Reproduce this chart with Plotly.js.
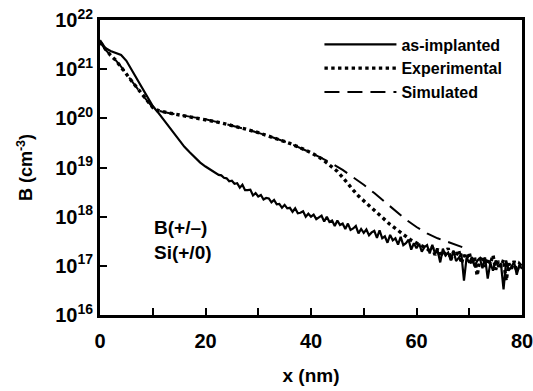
<!DOCTYPE html>
<html>
<head>
<meta charset="utf-8">
<script src="https://cdn.plot.ly/plotly-3.0.1.min.js"></script>
<style>html,body{margin:0;padding:0;background:#fff;}#chart{width:533px;height:391px;}</style>
</head>
<body>
<div id="chart"></div>
<script>
// ---- data (concentrations given as log10 of cm^-3) ----
const asImplX = [0,0.5,1,2,3,4,5,6,7,8,9,10,11,12,13,14,15,16,17,18,19,20,21,
  22,22.5,23,23.5,24,24.5,25,25.5,26,26.5,27,27.5,28,28.5,29,29.5,30,30.5,31,31.5,
  32,32.5,33,33.5,34,34.5,35,35.5,36,36.5,37,37.5,38,38.5,39,39.5,40,40.5,41,41.5,
  42,42.5,43,43.5,44,44.5,45,45.5,46,46.5,47,47.5,48,48.5,49,49.5,50,50.5,51,51.5,
  52,52.5,53,53.5,54,54.5,55,55.5,56,56.5,57,57.5,58,58.5,59,59.5,60,60.5,61,61.5,
  62,62.5,63,63.5,64,64.5,65,65.5,66,66.5,67,67.5,68,68.5,69,69.5,70,70.5,71,71.5,
  72,72.5,73,73.5,74,74.5,75,75.5,76,76.5,77,77.5,78,78.5,79,79.5,80];
const asImplLog = [21.59,21.50,21.43,21.37,21.33,21.29,21.17,20.98,20.80,20.60,20.43,20.25,20.12,19.98,19.82,19.68,19.55,19.42,19.31,19.20,19.10,19.02,18.95,
  18.89,18.85,18.84,18.79,18.78,18.72,18.73,18.67,18.68,18.59,18.65,18.54,18.54,18.55,18.43,18.48,18.41,18.44,18.35,18.38,
  18.37,18.29,18.34,18.25,18.26,18.18,18.24,18.17,18.18,18.10,18.17,18.07,18.08,18.11,18.00,18.06,18.00,18.04,17.95,17.99,
  18.02,17.90,18.00,17.89,17.92,17.81,17.92,17.83,17.86,17.75,17.86,17.73,17.76,17.81,17.66,17.75,17.67,17.74,17.62,17.68,
  17.71,17.57,17.72,17.56,17.60,17.47,17.63,17.52,17.56,17.43,17.59,17.42,17.46,17.53,17.33,17.46,17.36,17.45,17.29,17.38,
  17.42,17.25,17.43,17.25,17.31,17.07,17.35,17.21,17.27,17.11,17.31,17.10,17.16,17.25,16.70,17.17,17.06,17.18,16.99,17.10,
  17.16,16.95,17.17,16.74,17.06,16.90,17.11,16.98,17.05,16.52,17.11,16.91,16.98,17.08,16.82,17.02,16.94];

const expX = [0,1,2,3,4,5,6,7,8,9,10,11,12,13,14,15,16,17,18,19,20,22,24,26,28,30,32,34,36,38,40,42,44,
  45,46,47,48,49,50,51,52,53,54,55,56,57,58,59,60,61,62,
  62.5,63,63.5,64,64.5,65,65.5,66,66.5,67,67.5,68,68.5,69,69.5,70,70.5,71,71.5,
  72,72.5,73,73.5,74,74.5,75,75.5,76,76.5,77,77.5,78,78.5,79,79.5,80];
const expLog = [21.55,21.40,21.28,21.18,21.05,20.90,20.76,20.62,20.48,20.35,20.22,20.16,20.13,20.11,20.09,20.07,20.05,20.04,20.02,20.00,19.98,19.93,19.88,19.83,19.77,19.71,19.64,19.57,19.49,19.40,19.30,19.18,19.02,
  18.92,18.80,18.66,18.54,18.42,18.32,18.22,18.12,18.02,17.93,17.84,17.76,17.69,17.60,17.52,17.46,17.40,17.35,
  17.30,17.38,17.22,17.35,17.18,17.30,17.24,17.36,17.12,17.28,17.20,17.32,17.05,17.22,17.14,17.27,17.02,17.18,16.80,
  17.12,17.20,16.98,17.15,17.04,17.22,16.92,17.10,16.98,17.12,16.70,17.05,16.94,17.10,16.88,17.04,16.98];

const simX = [0,1,2,3,4,5,6,7,8,9,10,11,12,14,16,18,20,24,28,32,36,40,42,44,46,48,50,52,54,56,58,60,62,64,66,68,70];
const simLog = [21.55,21.40,21.28,21.18,21.05,20.90,20.76,20.62,20.48,20.35,20.22,20.16,20.13,20.09,20.05,20.02,19.98,19.88,19.77,19.64,19.49,19.30,19.19,19.08,18.95,18.80,18.65,18.48,18.30,18.11,17.94,17.79,17.66,17.56,17.48,17.40,17.33];

const seriesNames = ['as-implanted','Experimental','Simulated'];
const yTickExp = [16,17,18,19,20,21,22];
const xTickVals = [0,10,20,30,40,50,60,70,80];
const xTickText = ['0','','20','','40','','60','','80'];

const toVal = a => a.map(v => Math.pow(10, v));
const bold = s => s === '' ? '' : '<b>' + s + '</b>';
const FONT = 'Liberation Sans, Arial, Helvetica, sans-serif';

const traces = [
  {x: asImplX, y: toVal(asImplLog), name: seriesNames[0], mode: 'lines',
   line: {color: '#000', width: 2.2, dash: 'solid'}},
  {x: expX, y: toVal(expLog), name: seriesNames[1], mode: 'lines',
   line: {color: '#000', width: 3.4, dash: 'dot'}},
  {x: simX, y: toVal(simLog), name: seriesNames[2], mode: 'lines',
   line: {color: '#000', width: 2, dash: '15px,8px'}}
];

const layout = {
  width: 533, height: 391,
  margin: {l: 100, r: 11, t: 20, b: 76},
  paper_bgcolor: '#fff', plot_bgcolor: '#fff',
  showlegend: true,
  legend: {x: 0.52, y: 0.975, xanchor: 'left', yanchor: 'top', bgcolor: 'rgba(0,0,0,0)',
           font: {family: FONT, size: 16, color: '#000', weight: 'bold'},
           itemwidth: 72, tracegroupgap: 0},
  xaxis: {range: [0, 80], tickvals: xTickVals, ticktext: xTickText.map(bold),
          ticks: 'inside', ticklen: 7, tickwidth: 2, tickcolor: '#000',
          showline: true, linewidth: 3, linecolor: '#000', mirror: true,
          showgrid: false, zeroline: false, automargin: false,
          ticklabeloverflow: 'allow', ticklabelstandoff: 6,
          tickfont: {family: FONT, size: 20, color: '#000'},
          title: {text: '<b>x (nm)</b>', font: {family: FONT, size: 19, color: '#000'}, standoff: 18}},
  yaxis: {type: 'log', range: [16, 22],
          tickvals: yTickExp.map(e => Math.pow(10, e)),
          ticktext: yTickExp.map(e => '<b>10<sup>' + e + '</sup></b>'),
          ticks: 'inside', ticklen: 7, tickwidth: 2, tickcolor: '#000',
          showline: true, linewidth: 3, linecolor: '#000', mirror: true,
          showgrid: false, zeroline: false, automargin: false,
          ticklabeloverflow: 'allow',
          tickfont: {family: FONT, size: 20, color: '#000'},
          title: {text: '<b>B (cm<sup>-3</sup>)</b>', font: {family: FONT, size: 18, color: '#000'}, standoff: 18}},
  annotations: [
    {xref: 'paper', yref: 'paper', x: 0.123, y: 0.254, xanchor: 'left', yanchor: 'middle', showarrow: false,
     align: 'left', text: '<b>B(+/–)</b><br><b>Si(+/0)</b>', font: {family: FONT, size: 19, color: '#000'}}
  ]
};

Plotly.newPlot('chart', traces, layout, {displayModeBar: false, staticPlot: true});
</script>
</body>
</html>
